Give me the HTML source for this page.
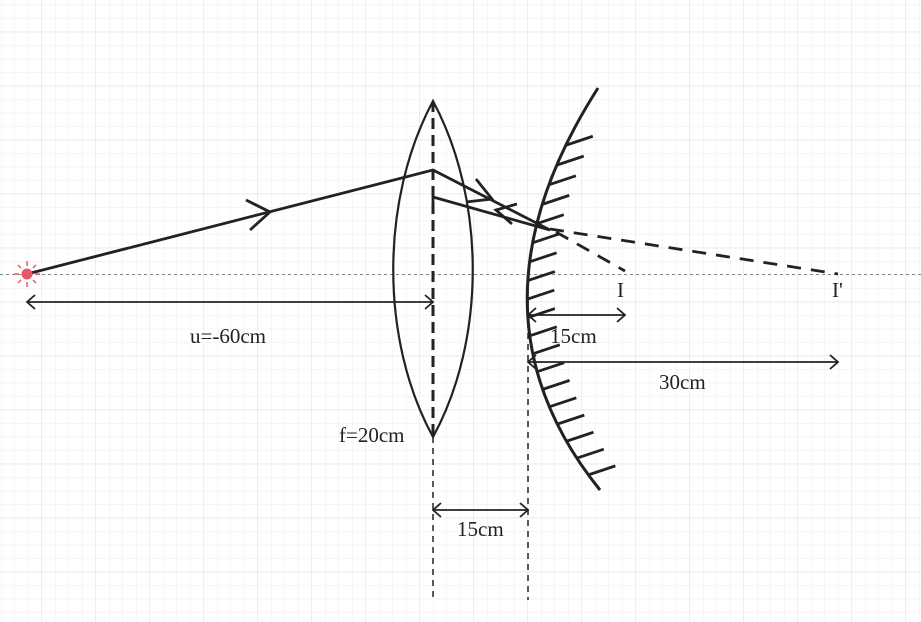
<!DOCTYPE html>
<html><head><meta charset="utf-8"><style>
html,body{margin:0;padding:0;background:#fff;}
svg{display:block;}
text{font-family:"Liberation Serif",serif;font-size:21px;fill:#222;}
</style></head><body>
<svg id="s" width="921" height="622" viewBox="0 0 921 622" xmlns="http://www.w3.org/2000/svg">
<defs>
<pattern id="minor" x="1" y="4.7" width="13.5" height="13.5" patternUnits="userSpaceOnUse">
<path d="M0 0H13.5M0 0V13.5" stroke="#ececec" stroke-width="1" fill="none"/>
</pattern>
<pattern id="major" x="41.5" y="31.7" width="54" height="54" patternUnits="userSpaceOnUse">
<path d="M0 0H54M0 0V54" stroke="#dedede" stroke-width="1" fill="none"/>
</pattern>
</defs>
<rect width="921" height="622" fill="url(#minor)"/>
<rect width="921" height="622" fill="url(#major)"/>
<line x1="0" y1="274.5" x2="921" y2="274.5" stroke="#888" stroke-width="1" stroke-dasharray="3,3"/>
<path d="M433 101 C380 200 380 340 433 437 C486 340 486 200 433 101 Z" fill="none" stroke="#222" stroke-width="2.2"/>
<line x1="433" y1="101" x2="433" y2="437" stroke="#222" stroke-width="3" stroke-dasharray="11,6"/>
<line x1="433" y1="437" x2="433" y2="600" stroke="#222" stroke-width="1.5" stroke-dasharray="6,5"/>
<line x1="528" y1="300" x2="528" y2="600" stroke="#222" stroke-width="1.5" stroke-dasharray="6,5"/>
<path d="M598 88 Q455.5 311 600 490" fill="none" stroke="#222" stroke-width="3"/>
<g id="hatch" stroke="#222" stroke-width="2.8"></g>
<g stroke="#222" stroke-width="2.8" fill="none">
<polyline points="27,274 433,170 550,230"/>
<polyline points="550,230 433,197 433,205"/>
<polyline points="246,200 270,212 250,230"/>
<polyline points="476,179 492,199 466,202"/>
<polyline points="517,204 496,210 512,224"/>
</g>
<g stroke="#222" stroke-width="2.8" stroke-dasharray="14,10" fill="none">
<line x1="550" y1="229" x2="838" y2="274"/>
<line x1="556" y1="232" x2="625" y2="271"/>
</g>
<g stroke="#222" stroke-width="1.8" fill="none">
<line x1="27" y1="302" x2="433" y2="302"/>
<polyline points="35,295 27,302 35,309"/><polyline points="425,295 433,302 425,309"/>
<line x1="528" y1="315" x2="625" y2="315"/>
<polyline points="536,308 528,315 536,322"/><polyline points="617,308 625,315 617,322"/>
<line x1="528" y1="362" x2="838" y2="362"/>
<polyline points="536,355 528,362 536,369"/><polyline points="830,355 838,362 830,369"/>
<line x1="433" y1="510" x2="528" y2="510"/>
<polyline points="441,503 433,510 441,517"/><polyline points="520,503 528,510 520,517"/>
</g>
<g stroke="#e8586a" stroke-width="1.5">
<line x1="27" y1="261" x2="27" y2="266"/><line x1="27" y1="282" x2="27" y2="287"/>
<line x1="14" y1="274" x2="19" y2="274"/><line x1="35" y1="274" x2="40" y2="274"/>
<line x1="18" y1="265" x2="21" y2="268"/><line x1="33" y1="280" x2="36" y2="283"/>
<line x1="36" y1="265" x2="33" y2="268"/><line x1="18" y1="283" x2="21" y2="280"/>
</g>
<circle cx="27" cy="274" r="5.5" fill="#e8586a"/>
<text x="190" y="343">u=-60cm</text>
<text x="339" y="442">f=20cm</text>
<text x="457" y="536">15cm</text>
<text x="550" y="343">15cm</text>
<text x="659" y="389">30cm</text>
<text x="617" y="297">I</text>
<text x="832" y="297">I'</text>
</svg>
<script>
var g=document.getElementById('hatch');
function B(t){var a=(1-t)*(1-t),b=2*t*(1-t),c=t*t;return [a*598+b*455.5+c*600,a*88+b*311+c*490];}
for(var i=0;i<19;i++){var t=0.13+i*0.046;var p=B(t);
var l=document.createElementNS('http://www.w3.org/2000/svg','line');
l.setAttribute('x1',p[0]);l.setAttribute('y1',p[1]);l.setAttribute('x2',p[0]+27);l.setAttribute('y2',p[1]-9);g.appendChild(l);}
</script>
</body></html>
